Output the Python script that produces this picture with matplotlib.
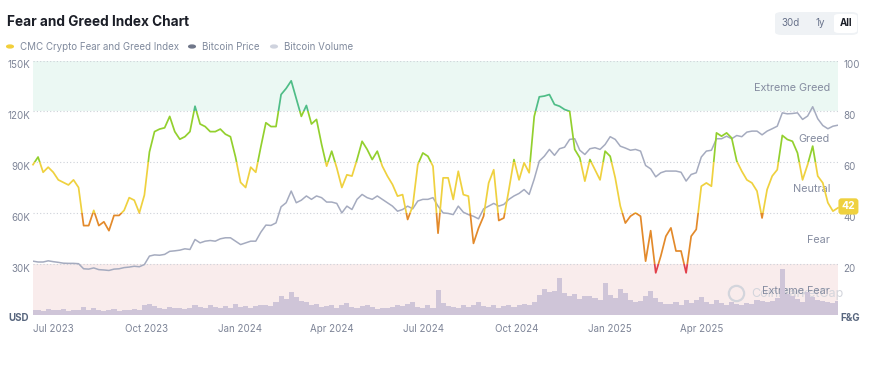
import matplotlib
matplotlib.use("Agg")
import matplotlib.pyplot as plt
import matplotlib.dates as mdates
from matplotlib.patches import Rectangle, FancyBboxPatch
from matplotlib.transforms import offset_copy
import pandas as pd

plt.rcParams['font.family'] = ['Inter', 'DejaVu Sans']

# data, one point every 5 days from 2023-06-11
start_date = "2023-06-11"
step_days = 5

fear_greed = [
    59, 62, 56, 58, 56, 53, 52, 51, 53, 50,
    35, 35, 41, 35, 36.5, 33, 39, 39, 41, 46,
    45, 40, 47, 64, 72, 73, 73.5, 78, 72, 69,
    70, 72, 82, 75, 74, 72, 72, 73, 71, 70,
    62, 52, 50, 58, 56, 66, 75.5, 74, 74, 86.6,
    89, 92, 85, 78, 82.3, 75, 76.8, 67, 58.4, 64.3,
    57.7, 50, 55, 54.5, 61, 68.2, 65, 61, 64.3, 58.4,
    54.5, 51.2, 46.6, 47.2, 37.4, 42.7, 59, 63.6, 62.3, 58.4,
    32, 53.8, 53.8, 45.3, 56.4, 47.2, 46.6, 28, 34, 38.7,
    51.8, 57, 37, 38, 49.2, 61, 53, 59.7, 55.8, 78,
    85.7, 86, 86.6, 82.7, 82, 80.7, 80, 65, 61.7, 52.5,
    61, 57, 53, 64.3, 62.3, 53.8, 42.7, 36, 38.7, 40,
    38.7, 21, 33, 16.4, 23, 30.8, 34.1, 25, 25, 16.4,
    30.8, 33.5, 50.5, 51.8, 50.5, 71.5, 70.2, 71.5, 69.5, 60.4,
    56.4, 53, 51.8, 48.6, 38, 49.2, 54.5, 57, 70.5, 68.9,
    68.2, 63.6, 53, 59, 66.3, 54.5, 51.8, 44, 40.7, 42,
]

btc_price_k = [
    31.5, 31.0, 31.0, 31.7, 31.2, 30.8, 30.3, 30.2, 30.2, 30.0,
    27.0, 26.8, 27.5, 26.5, 26.3, 26.0, 26.8, 27.0, 27.7, 28.0,
    28.5, 28.2, 29.5, 34.5, 35.2, 35.0, 35.5, 37.3, 37.6, 38.0,
    38.8, 38.4, 44.3, 42.3, 43.3, 43.7, 43.3, 44.7, 45.3, 45.3,
    43.3, 41.3, 42.3, 43.3, 43.3, 48.6, 52.8, 52.6, 54.1, 63.6,
    66.0, 72.9, 66.0, 67.5, 70.0, 68.0, 70.0, 69.0, 66.4, 66.4,
    65.6, 60.0, 64.0, 62.0, 68.0, 70.9, 69.0, 68.0, 70.0, 68.0,
    66.0, 64.0, 61.0, 62.0, 64.0, 62.4, 67.0, 68.0, 68.0, 69.0,
    64.0, 60.0, 59.7, 59.0, 64.0, 60.4, 59.0, 58.0, 56.5, 62.4,
    64.0, 65.6, 64.0, 65.0, 68.0, 70.0, 71.5, 73.8, 70.9, 80.0,
    90.6, 93.5, 97.5, 94.0, 97.9, 98.8, 103.4, 103.8, 97.0, 94.5,
    97.9, 98.5, 97.5, 100.4, 105.0, 103.4, 99.4, 98.3, 97.0, 97.5,
    96.5, 88.0, 86.0, 81.3, 83.7, 84.7, 84.7, 84.7, 84.0, 78.8,
    82.7, 83.7, 93.0, 96.5, 97.0, 103.8, 103.8, 105.3, 103.8, 105.7,
    105.0, 107.7, 108.3, 108.3, 106.1, 108.3, 109.7, 111.2, 119.1, 118.5,
    118.7, 119.1, 115.2, 117.2, 122.7, 115.6, 111.6, 109.7, 111.2, 111.8,
]

btc_volume_b = [
    10, 12, 9, 14, 11, 10, 13, 9, 11, 10,
    18, 12, 16, 10, 9, 11, 13, 9, 12, 11,
    14, 12, 22, 26, 20, 16, 14, 18, 15, 17,
    14, 16, 22, 19, 15, 24, 18, 16, 20, 17,
    26, 19, 21, 17, 20, 22, 24, 20, 30, 46,
    38, 55, 42, 34, 30, 22, 26, 18, 20, 24,
    17, 22, 28, 19, 16, 20, 24, 18, 14, 17,
    15, 19, 24, 21, 26, 30, 18, 17, 22, 16,
    60, 28, 20, 18, 17, 22, 19, 24, 30, 21,
    18, 22, 17, 20, 24, 19, 23, 26, 22, 30,
    48, 62, 55, 58, 90, 52, 45, 50, 38, 44,
    44, 40, 35, 78, 48, 40, 62, 52, 36, 30,
    33, 45, 58, 40, 30, 26, 25, 30, 22, 35,
    28, 36, 42, 30, 26, 35, 28, 24, 30, 25,
    22, 28, 26, 36, 32, 30, 34, 40, 112, 50,
    45, 38, 30, 55, 42, 36, 32, 30, 28, 34,
]

x_tick_dates = ['2023-07-01', '2023-10-01', '2024-01-01', '2024-04-01',
                '2024-07-01', '2024-10-01', '2025-01-01', '2025-04-01']

zones = [
    (-2, 20, '#e2404a', 'Extreme Fear', 10),
    (20, 40, '#e38a2b', 'Fear', 30),
    (40, 60, '#efd13f', 'Neutral', 50),
    (60, 80, '#93d02e', 'Greed', 70),
    (80, 102, '#4fbd87', 'Extreme Greed', 90),
]

price_ticks = [30, 60, 90, 120, 150]
fg_ticks = [20, 40, 60, 80, 100]

dates = pd.date_range(start_date, periods=len(fear_greed), freq=f"{step_days}D")
prices = [p * 1000 for p in btc_price_k]

fig = plt.figure(figsize=(8.75, 3.76), dpi=100)
ax = fig.add_axes([33 / 875, 1 - 314.5 / 376, 805 / 875, 254 / 376])
ax.set_xlim(dates[0], dates[-1])
ax.set_ylim(0, 100)

# background bands + dotted grid
ax.axhspan(80, 100, color='#ebf8f3', lw=0, zorder=0)
ax.axhspan(0, 20, color='#f9ecec', lw=0, zorder=0)
for v in fg_ticks:
    ax.axhline(v, color='#cdd1d8', lw=0.8, ls=(0, (1, 2)), zorder=1)

for s in ax.spines.values():
    s.set_visible(False)
ax.set_yticks([])
ax.set_xticks(pd.to_datetime(x_tick_dates))
ax.xaxis.set_major_formatter(mdates.DateFormatter('%b %Y'))
ax.tick_params(axis='x', length=0, labelsize=7, labelcolor='#7d8497', pad=7)

# zone names on the right side
for lo, hi, col, name, ypos in zones:
    tr = offset_copy(ax.get_yaxis_transform(), fig=fig, x=-8, y=-2, units='dots')
    ax.text(1, ypos, name, transform=tr, ha='right', va='center',
            fontsize=7.8, color='#858ca0', zorder=6)

# watermark
ax.plot([0.873], [0.085], transform=ax.transAxes, marker='o', ms=11, mfc='none',
        mec='#d3d5dc', mew=1.6, zorder=2)
ax.text(0.892, 0.08, 'CoinMarketCap', transform=ax.transAxes, fontsize=9,
        color='#d3d5dc', va='center', ha='left', zorder=2)

# volume bars
ax_v = ax.twinx()
ax_v.bar(dates, btc_volume_b, width=step_days, color='#cfc5d8', lw=0)
ax_v.set_ylim(0, 620)
ax_v.set_axis_off()

# bitcoin price
ax_p = ax.twinx()
ax_p.plot(dates, prices, color='#a5abbf', lw=1.1)
ax_p.set_ylim(0, 150000)
ax_p.set_xlim(dates[0], dates[-1])
ax_p.set_axis_off()
for v in price_ticks:
    tr = offset_copy(ax_p.get_yaxis_transform(), fig=fig, x=-3, y=-5, units='dots')
    ax_p.text(0, v * 1000, f'{v}K', transform=tr, ha='right', va='center',
              fontsize=7, color='#7d8497', clip_on=False)

# fear & greed line, coloured by zone
ax_fg = ax.twinx()
ax_fg.set_ylim(0, 100)
ax_fg.set_xlim(dates[0], dates[-1])
ax_fg.set_axis_off()
x0 = mdates.date2num(dates[0]) - 30
x1 = mdates.date2num(dates[-1]) + 30
for lo, hi, col, name, ypos in zones:
    line, = ax_fg.plot(dates, fear_greed, color=col, lw=1.25, solid_joinstyle='round')
    clip = Rectangle((x0, lo), x1 - x0, hi - lo, transform=ax_fg.transData)
    line.set_clip_path(clip)

for v in fg_ticks:
    tr = offset_copy(ax_fg.get_yaxis_transform(), fig=fig, x=5, y=-5, units='dots')
    ax_fg.text(1, v, str(v), transform=tr, ha='left', va='center',
               fontsize=7, color='#7d8497', clip_on=False)

ax_fg.annotate(f'{fear_greed[-1]:.0f}', xy=(1, fear_greed[-1]),
               xycoords=('axes fraction', 'data'), xytext=(7.5, 1),
               textcoords='offset points', ha='center', va='center',
               fontsize=7.5, fontweight='bold', color='white',
               bbox=dict(boxstyle='round,pad=0.3', fc='#efd13f', ec='none'))

fig.text(19 / 875, 1 - 318 / 376, 'USD', fontsize=7, fontweight='bold',
         color='#58667e', ha='center', va='center')
fig.text(850 / 875, 1 - 318 / 376, 'F&G', fontsize=7, fontweight='bold',
         color='#58667e', ha='center', va='center')

# title and legend
fig.text(7 / 875, 1 - 22 / 376, 'Fear and Greed Index Chart', fontsize=9.8,
         fontweight='bold', color='#1b1e27', ha='left', va='center')
legend_items = [
    (10, 20, '#f2cf3a', 'CMC Crypto Fear and Greed Index'),
    (192, 202, '#6f7689', 'Bitcoin Price'),
    (274, 284, '#cfd3de', 'Bitcoin Volume'),
]
for dx, tx, col, label in legend_items:
    fig.patches.append(plt.Circle((dx / 875, 1 - 46.5 / 376), 0.0038,
                                  transform=fig.transFigure, color=col,
                                  figure=fig))
    fig.text(tx / 875, 1 - 46.5 / 376, label, fontsize=7, color='#808a9d',
             ha='left', va='center')

# range buttons
fig.patches.append(FancyBboxPatch((775 / 875, 1 - 35 / 376), 83 / 875, 23 / 376,
                                  boxstyle='round,pad=0,rounding_size=0.008',
                                  transform=fig.transFigure, fc='#eff2f5',
                                  ec='none', figure=fig))
fig.patches.append(FancyBboxPatch((834 / 875, 1 - 33 / 376), 23 / 875, 19 / 376,
                                  boxstyle='round,pad=0,rounding_size=0.006',
                                  transform=fig.transFigure, fc='white',
                                  ec='none', figure=fig))
for bx, label, col, wt in [(791, '30d', '#67718a', 'normal'),
                           (820, '1y', '#67718a', 'normal'),
                           (846, 'All', '#1b1e27', 'bold')]:
    fig.text(bx / 875, 1 - 23 / 376, label, fontsize=7, color=col,
             fontweight=wt, ha='center', va='center')

fig.savefig('out.png', dpi=100, facecolor='white')
